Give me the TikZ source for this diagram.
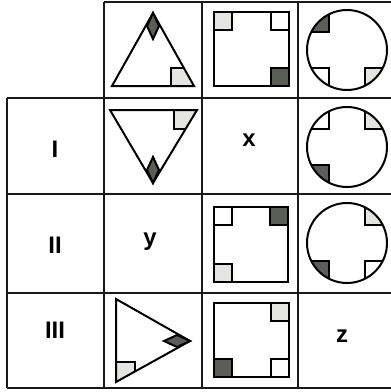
\documentclass[tikz,border=0pt]{standalone}
\usepackage{fontspec}
\setmainfont{Liberation Sans}
\usepackage{xcolor}
\usetikzlibrary{positioning}
\definecolor{lightfill}{RGB}{228,228,226}
\definecolor{darkfill}{RGB}{90,94,86}

\begin{document}
\begin{tikzpicture}[x=0.25mm, y=-0.25mm,
      gridline/.style={line width=0.7mm, black!90},
      shapeline/.style={line width=0.5mm, line join=miter},
      cornerbox/.style={shapeline, fill=#1},
      lbl/.style={font=\fontsize{17}{19}\selectfont\bfseries, inner sep=0pt}
    ]
      \useasboundingbox (0,0) rectangle (391,392);
      % grid
      \draw[gridline] (104,2) -- (391,2);
      \foreach \y in {98,194,293,388}
        \draw[gridline] (7,\y) -- (391,\y);
      \draw[gridline] (7,98) -- (7,388);
      \foreach \x in {104,202,298}
        \draw[gridline] (\x,2) -- (\x,388);
      % row labels and unknowns
      \node[lbl] (r1) at (55,149) {I};
      \node[lbl] (r2) at (55,245) {II};
      \node[lbl] (r3) at (55,330) {III};
      \node[lbl] (qx) at (249,140) {x};
      \node[lbl] (qy) at (150,242) {y};
      \node[lbl] (qz) at (342,336) {z};
      % top: triangle pointing up
      \begin{scope}
        \clip (153,13) -- (194,86) -- (112,86) -- cycle;
        \draw[cornerbox=lightfill] (171,68) rectangle ++(40,40);
      \end{scope}
      \draw[shapeline] (153,13) -- (194,86) -- (112,86) -- cycle;
      \draw[shapeline, fill=darkfill] (153,13) -- (159,26) -- (153,39) -- (147,26) -- cycle;
      % top: square
      \draw[shapeline] (214,12) rectangle (289,86);
      \draw[cornerbox=lightfill] (214,12) rectangle ++(18,18);
      \draw[cornerbox=white] (289,12) rectangle ++(-18,18);
      \draw[cornerbox=darkfill] (289,86) rectangle ++(-18,-18);
      % top: circle
      \begin{scope}
        \clip (347,50) circle (40);
        \draw[cornerbox=darkfill] (329,32) rectangle ++(-40,-40);
        \draw[cornerbox=white] (329,68) rectangle ++(-40,40);
        \draw[cornerbox=lightfill] (365,68) rectangle ++(40,40);
      \end{scope}
      \draw[shapeline] (347,50) circle (40);
      % row I: triangle pointing down
      \begin{scope}
        \clip (110,110) -- (197,110) -- (153,183) -- cycle;
        \draw[cornerbox=lightfill] (174,129) rectangle ++(40,-40);
      \end{scope}
      \draw[shapeline] (110,110) -- (197,110) -- (153,183) -- cycle;
      \draw[shapeline, fill=darkfill] (153,183) -- (159,170) -- (153,157) -- (147,170) -- cycle;
      % row I: circle
      \begin{scope}
        \clip (347,147) circle (40);
        \draw[cornerbox=white] (329,129) rectangle ++(-40,-40);
        \draw[cornerbox=lightfill] (365,129) rectangle ++(40,-40);
        \draw[cornerbox=darkfill] (329,165) rectangle ++(-40,40);
      \end{scope}
      \draw[shapeline] (347,147) circle (40);
      % row II: square
      \draw[shapeline] (214,207) rectangle (288,282);
      \draw[cornerbox=white] (214,207) rectangle ++(18,18);
      \draw[cornerbox=darkfill] (288,207) rectangle ++(-18,18);
      \draw[cornerbox=lightfill] (214,282) rectangle ++(18,-18);
      % row II: circle
      \begin{scope}
        \clip (347,243) circle (40);
        \draw[cornerbox=lightfill] (365,225) rectangle ++(40,-40);
        \draw[cornerbox=darkfill] (329,261) rectangle ++(-40,40);
        \draw[cornerbox=white] (365,261) rectangle ++(40,40);
      \end{scope}
      \draw[shapeline] (347,243) circle (40);
      % row III: triangle pointing right
      \begin{scope}
        \clip (116,299) -- (190,341) -- (116,382) -- cycle;
        \draw[cornerbox=lightfill] (135,362) rectangle ++(-40,40);
      \end{scope}
      \draw[shapeline] (116,299) -- (190,341) -- (116,382) -- cycle;
      \draw[shapeline, fill=darkfill] (190,341) -- (177,335) -- (164,341) -- (177,347) -- cycle;
      % row III: square
      \draw[shapeline] (214,303) rectangle (289,377);
      \draw[cornerbox=lightfill] (289,303) rectangle ++(-18,18);
      \draw[cornerbox=darkfill] (214,377) rectangle ++(18,-18);
      \draw[cornerbox=white] (289,377) rectangle ++(-18,-18);
    \end{tikzpicture}
\end{document}
